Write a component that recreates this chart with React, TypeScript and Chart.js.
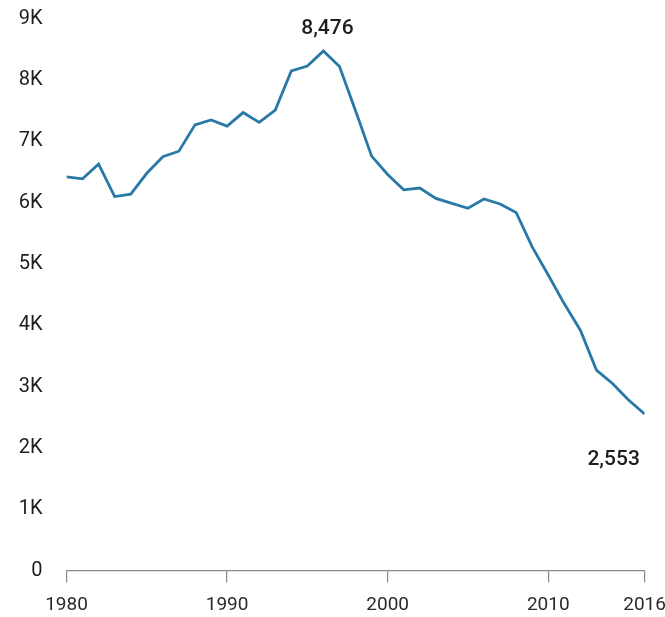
import React, { useEffect, useRef } from "react";
import { Chart, registerables } from "chart.js";

Chart.register(...registerables);

const years: number[] = [
  1980, 1981, 1982, 1983, 1984, 1985, 1986, 1987, 1988, 1989,
  1990, 1991, 1992, 1993, 1994, 1995, 1996, 1997, 1998, 1999,
  2000, 2001, 2002, 2003, 2004, 2005, 2006, 2007, 2008, 2009,
  2010, 2011, 2012, 2013, 2014, 2015, 2016,
];

const values: number[] = [
  6420, 6390, 6630, 6100, 6140, 6480, 6750, 6840, 7270, 7350,
  7250, 7470, 7310, 7510, 8150, 8230, 8476, 8220, 7500, 6760,
  6460, 6210, 6240, 6070, 5990, 5910, 6060, 5980, 5840, 5280,
  4820, 4350, 3920, 3270, 3050, 2780, 2553,
];

const xTickYears: number[] = [1980, 1990, 2000, 2010, 2016];
const yTickValues: number[] = [0, 1000, 2000, 3000, 4000, 5000, 6000, 7000, 8000, 9000];
const yTickLabels: string[] = ["0", "1K", "2K", "3K", "4K", "5K", "6K", "7K", "8K", "9K"];

const annotations = [
  { year: 1996, text: "8,476", dx: 4, dy: -22 },
  { year: 2016, text: "2,553", dx: -31, dy: 46 },
];

const LINE_COLOR = "#2878a8";

export default function App() {
  const ref = useRef<HTMLCanvasElement | null>(null);

  useEffect(() => {
    document.body.style.margin = "0";
    const canvas = ref.current;
    if (!canvas) return;

    const labelPlugin = {
      id: "valueLabels",
      afterDatasetsDraw(chart: any) {
        const ctx = chart.ctx;
        const xs = chart.scales.x;
        const ys = chart.scales.y;
        ctx.save();
        ctx.font = "500 21px Roboto";
        ctx.fillStyle = "#1e1e1e";
        ctx.textAlign = "center";
        ctx.textBaseline = "middle";
        for (const a of annotations) {
          const i = years.indexOf(a.year);
          const px = xs.getPixelForValue(years[i]);
          const py = ys.getPixelForValue(values[i]);
          ctx.fillText(a.text, px + a.dx, py + a.dy);
        }
        ctx.restore();
      },
    };

    const chart = new Chart(canvas, {
      type: "line",
      data: {
        datasets: [
          {
            data: years.map((y, i) => ({ x: y, y: values[i] })),
            borderColor: LINE_COLOR,
            borderWidth: 2.8,
            pointRadius: 0,
            fill: false,
            tension: 0,
          },
        ],
      },
      options: {
        animation: false,
        responsive: false,
        maintainAspectRatio: false,
        layout: { padding: { left: 0, right: 20.4, top: 18.8, bottom: 0 } },
        plugins: {
          legend: { display: false },
          tooltip: { enabled: false },
        },
        scales: {
          x: {
            type: "linear",
            min: 1980,
            max: 2016,
            afterBuildTicks: (scale: any) => {
              scale.ticks = xTickYears.map((v) => ({ value: v }));
            },
            afterFit: (scale: any) => {
              scale.height = 46.5;
              scale.paddingLeft = 0;
              scale.paddingRight = 0;
            },
            grid: {
              display: true,
              drawOnChartArea: false,
              drawTicks: true,
              tickLength: 12,
              color: "#8a8a8a",
              lineWidth: 1.2,
            },
            border: { display: true, color: "#8a8a8a", width: 1.2 },
            ticks: {
              autoSkip: false,
              maxRotation: 0,
              padding: 11,
              color: "#2a2a2a",
              font: { family: "Roboto", size: 19 },
              callback: (v: any) => String(v),
            },
          },
          y: {
            type: "linear",
            min: 0,
            max: 9000,
            afterBuildTicks: (scale: any) => {
              scale.ticks = yTickValues.map((v) => ({ value: v }));
            },
            afterFit: (scale: any) => {
              scale.width = 66.5;
              scale.paddingTop = 0;
              scale.paddingBottom = 0;
            },
            grid: { display: false, drawTicks: false },
            border: { display: false },
            ticks: {
              padding: 24,
              color: "#1e1e1e",
              font: { family: "Roboto", size: 20 },
              callback: (v: any) => {
                const i = yTickValues.indexOf(Number(v));
                return i >= 0 ? yTickLabels[i] : "";
              },
            },
          },
        },
      },
      plugins: [labelPlugin],
    } as any);

    return () => chart.destroy();
  }, []);

  return (
    <div style={{ position: "absolute", left: 0, top: 0, width: 665, height: 617, background: "#fff" }}>
      <canvas ref={ref} width={665} height={617} style={{ width: 665, height: 617, display: "block" }} />
    </div>
  );
}
